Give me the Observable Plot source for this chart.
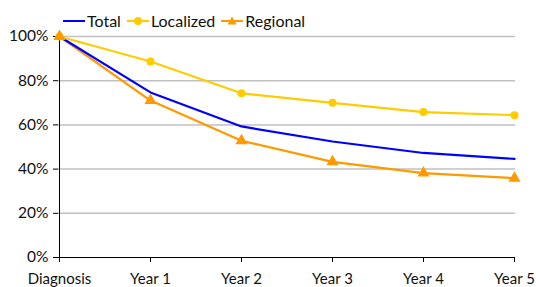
<!DOCTYPE html>
<html><head><meta charset="utf-8">
<script src="https://cdn.jsdelivr.net/npm/d3@7"></script>
<script src="https://cdn.jsdelivr.net/npm/@observablehq/plot@0.6"></script>
<style>
body{margin:0;background:#fff;font-family:Lato,sans-serif;}
#wrap{position:relative;width:536px;height:287px;}
#legend{position:absolute;left:63px;top:11px;display:flex;align-items:center;font-size:16px;color:#111;}
#legend span{display:flex;align-items:center;margin-right:3px;}
</style></head><body>
<div id="wrap"><div id="legend"></div><div id="chart"></div></div>
<script>
const categories = ["Diagnosis","Year 1","Year 2","Year 3","Year 4","Year 5"];
const total = [100, 74.7, 59.3, 52.5, 47.3, 44.6];
const localized = [100, 88.7, 74.3, 70.0, 65.8, 64.4];
const regional = [100, 71.0, 52.8, 43.3, 38.2, 35.9];
const yTicks = [0, 20, 40, 60, 80, 100];
const seriesNames = ["Total","Localized","Regional"];
const colors = {Total:"#0000ff", Localized:"#ffcc00", Regional:"#ff9900"};
const symbols = {Total:null, Localized:"circle", Regional:"triangle"};

const rows = [];
[[seriesNames[0], total],[seriesNames[1], localized],[seriesNames[2], regional]].forEach(([s, vals]) =>
  vals.forEach((v,i) => rows.push({series:s, cat:categories[i], value:v})));

const plot = Plot.plot({
  width:536, height:287,
  marginLeft:58, marginRight:21, marginTop:36, marginBottom:30,
  style:{fontFamily:"Lato, sans-serif", fontSize:"15px", color:"#111", background:"#fff"},
  x:{type:"point", domain:categories, padding:0, label:null},
  y:{domain:[0,100], label:null},
  marks:[
    Plot.ruleY(yTicks.filter(d=>d>0), {stroke:"#c0c0c0", strokeWidth:1.5}),
    Plot.axisY(yTicks, {tickSize:5, tickPadding:5, tickFormat:d=>d+"%", stroke:"#000", fontSize:15.5}),
    Plot.axisX({tickSize:5, tickPadding:11, stroke:"#000", fontSize:15}),
    Plot.ruleX([categories[0]], {y1:0, y2:100, stroke:"#000", strokeWidth:1}),
    Plot.ruleY([0], {stroke:"#000", strokeWidth:1}),
    Plot.line(rows.filter(d=>d.series==="Regional"), {x:"cat", y:"value", stroke:colors.Regional, strokeWidth:2.2}),
    Plot.line(rows.filter(d=>d.series==="Total"), {x:"cat", y:"value", stroke:colors.Total, strokeWidth:2.2}),
    Plot.line(rows.filter(d=>d.series==="Localized"), {x:"cat", y:"value", stroke:colors.Localized, strokeWidth:2.2}),
    Plot.dot(rows.filter(d=>d.series==="Localized"), {x:"cat", y:"value", fill:colors.Localized, r:4, symbol:"circle"}),
    Plot.dot(rows.filter(d=>d.series==="Regional"), {x:"cat", y:"value", fill:colors.Regional, r:4.5, symbol:"triangle"})
  ]
});
document.getElementById("chart").appendChild(plot);

const leg = document.getElementById("legend");
seriesNames.forEach(s => {
  const sp = document.createElement("span");
  let marker = "";
  if (symbols[s]==="circle") marker = `<circle cx="11" cy="8" r="4" fill="${colors[s]}"/>`;
  if (symbols[s]==="triangle") marker = `<path d="M11,3.5 L15.5,11.5 L6.5,11.5Z" fill="${colors[s]}"/>`;
  sp.innerHTML = `<svg width="22" height="16"><line x1="0" x2="22" y1="8" y2="8" stroke="${colors[s]}" stroke-width="2"/>${marker}</svg><span style="margin-left:2px">${s}</span>`;
  leg.appendChild(sp);
});
</script></body></html>
